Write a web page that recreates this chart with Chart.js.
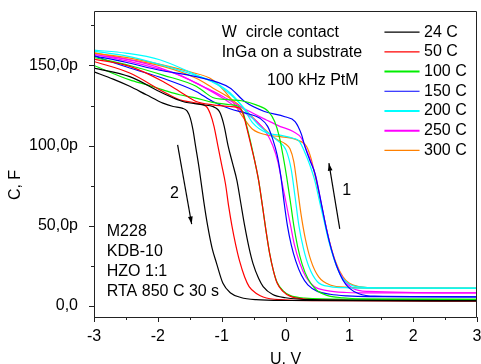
<!DOCTYPE html>
<html>
<head>
<meta charset="utf-8">
<script src="https://cdn.jsdelivr.net/npm/chart.js@4.4.1/dist/chart.umd.min.js"></script>
<style>
  html, body { margin: 0; padding: 0; background: #fff; }
</style>
</head>
<body>
<canvas id="cvChart" width="481" height="364"></canvas>
<script>
// C-V curves, capacitance in pF, voltage in V (two sweep branches per temperature)
const temps = ['24 C', '50 C', '100 C', '150 C', '200 C', '250 C', '300 C'];
const colors = ['#000000', '#ff0000', '#00ee00', '#0000ff', '#00ffff', '#ff00ff', '#ff8000'];

// branch "2" (left)
const u24b = [-3, -2.7, -2.44, -2.18, -1.92, -1.76, -1.62, -1.54, -1.49, -1.45, -1.41, -1.35, -1.28, -1.22, -1.15, -1.08, -0.98, -0.86, -0.7, -0.46, 0, 3];
const c24b = [146, 141.5, 137, 131.7, 126.5, 124.4, 123.4, 121.5, 117, 110, 100, 85, 65, 50, 36, 26.5, 14, 8, 5.2, 3.8, 3.3, 3];
const u50b = [-3, -2.44, -1.92, -1.66, -1.4, -1.24, -1.18, -1.12, -1.06, -1, -0.94, -0.89, -0.84, -0.78, -0.72, -0.64, -0.57, -0.45, -0.35, -0.1, 0.5, 3];
const c50b = [152.5, 145.3, 133.8, 128.6, 126.5, 124.4, 120, 112, 100, 88, 76, 62, 50, 38, 28, 18, 12, 7.5, 5.5, 3.8, 3.2, 3];
const u100b = [-3, -2.44, -2.18, -1.92, -1.66, -1.4, -1.14, -0.87, -0.72, -0.66, -0.6, -0.54, -0.48, -0.42, -0.36, -0.31, -0.25, -0.19, -0.13, -0.04, 0.07, 0.3, 1, 3];
const c100b = [150, 141, 138, 134.8, 131.7, 129.6, 127, 125.5, 124, 120, 111, 101, 90, 78, 62, 48, 33, 22, 14.5, 9.5, 6.5, 4.8, 4.1, 4];
const u150b = [-3, -2.44, -1.92, -1.4, -1.14, -0.87, -0.6, -0.4, -0.28, -0.2, -0.13, -0.07, -0.02, 0.03, 0.09, 0.16, 0.25, 0.35, 0.5, 0.7, 0.96, 1.3, 3];
const c150b = [156, 148.4, 142, 133.8, 127.5, 123, 120, 117, 112, 104, 94, 80, 64, 50, 38, 28, 19, 13, 9, 7.2, 6.2, 5.7, 5.6];
const u200b = [-3, -2.5, -1.97, -1.45, -1.03, -0.72, -0.4, -0.14, 0.01, 0.09, 0.15, 0.21, 0.28, 0.37, 0.5, 0.7, 1, 1.3, 3];
const c200b = [159.6, 157.7, 153.6, 145, 137, 126.5, 112, 103.6, 97, 85, 68, 50, 36, 24, 15, 12, 11.2, 11, 11];
const u250b = [-3, -2.5, -2, -1.5, -1, -0.7, -0.45, -0.3, -0.2, -0.12, -0.05, 0.02, 0.08, 0.14, 0.22, 0.32, 0.45, 0.65, 0.96, 1.3, 3];
const c250b = [156.7, 154, 149, 141, 130, 122, 115, 108, 100, 90, 76, 62, 50, 38, 27, 18, 12, 9.5, 8.3, 8, 8];
const u300b = [-3, -2.44, -1.92, -1.4, -1.14, -0.87, -0.6, -0.35, -0.14, 0, 0.07, 0.13, 0.18, 0.24, 0.31, 0.4, 0.52, 0.7, 1, 1.3, 3];
const c300b = [158, 153.6, 149.4, 142, 136, 129.6, 121, 111, 104, 101, 98, 90, 76, 58, 42, 28, 18, 13, 11.5, 11, 10.8];

// branch "1" (right)
const u24a = [-3, -2.44, -1.92, -1.61, -1.29, -1.14, -1.06, -1.02, -0.96, -0.9, -0.83, -0.76, -0.7, -0.64, -0.57, -0.51, -0.42, -0.35, -0.2, 0, 0.4, 3];
const c24a = [148.4, 143, 132.7, 127.5, 125.4, 124.4, 122.5, 120, 112, 100, 89, 78, 64, 50, 36, 26.5, 17, 12, 7, 5, 3.8, 3.2];
const u50a = [-3, -2.44, -1.92, -1.66, -1.4, -1.14, -0.87, -0.72, -0.66, -0.6, -0.54, -0.48, -0.42, -0.36, -0.31, -0.25, -0.19, -0.13, -0.04, 0.07, 0.3, 1, 3];
const c50a = [154, 149.4, 140, 133.8, 127.5, 125.4, 124.4, 123.4, 119, 110, 100, 90, 78, 62, 48, 33, 22, 14, 9, 6, 4.2, 3.3, 3];
const u100a = [-3, -2.44, -1.92, -1.4, -1.29, -1.14, -0.87, -0.69, -0.46, -0.27, -0.17, -0.1, -0.04, 0.02, 0.08, 0.13, 0.19, 0.26, 0.35, 0.48, 0.65, 0.9, 1.3, 3];
const c100a = [155, 150, 144, 137, 134, 130, 128.6, 128, 125.4, 121.3, 115, 106, 94, 80, 64, 50, 37, 26, 17, 10, 6.5, 5, 4.2, 4];
const u150a = [-3, -2.5, -1.97, -1.4, -0.87, -0.64, -0.33, -0.01, 0.15, 0.25, 0.3, 0.38, 0.46, 0.52, 0.58, 0.64, 0.72, 0.8, 0.9, 1, 1.15, 1.4, 3];
const c150a = [156, 152, 147, 143, 136, 127.5, 121.3, 118, 115, 107, 100, 91, 82.8, 72, 60, 48, 35, 25, 16, 11, 7.5, 6, 5.6];
const u200a = [-3, -2.5, -2, -1.5, -1.14, -0.87, -0.67, -0.51, -0.3, -0.09, 0.12, 0.22, 0.3, 0.38, 0.46, 0.54, 0.61, 0.68, 0.77, 0.88, 1, 1.15, 1.5, 3];
const c200a = [159, 156, 151, 145, 140, 133, 124, 114, 108, 106.5, 104.6, 102.5, 96, 88, 78, 64, 52, 40, 28, 18, 13.5, 11.8, 11.2, 11];
const u250a = [-3, -2.5, -2, -1.66, -1.4, -1.14, -0.98, -0.6, -0.3, -0.09, 0.12, 0.25, 0.32, 0.4, 0.48, 0.55, 0.62, 0.7, 0.8, 0.92, 1.05, 1.3, 3];
const c250a = [157, 153, 148, 144, 139, 134, 130.6, 122, 116, 112, 108.8, 104.6, 98, 90, 80, 66, 52, 38, 25, 16, 11, 9, 8];
const u300a = [-3, -2.5, -2, -1.5, -1.14, -0.87, -0.67, -0.51, -0.3, -0.09, 0.17, 0.33, 0.4, 0.47, 0.55, 0.62, 0.69, 0.78, 0.9, 1, 1.15, 1.5, 3];
const c300a = [157.5, 155, 151, 146, 141, 130, 118, 110, 106.7, 105.6, 103.6, 99.4, 92, 80, 65, 52, 40, 28, 18, 14, 12, 11.2, 11];

const branchB = [[u24b, c24b], [u50b, c50b], [u100b, c100b], [u150b, c150b], [u200b, c200b], [u250b, c250b], [u300b, c300b]];
const branchA = [[u24a, c24a], [u50a, c50a], [u100a, c100a], [u150a, c150a], [u200a, c200a], [u250a, c250a], [u300a, c300a]];

const xTicks = [-3, -2, -1, 0, 1, 2, 3];
const yTicks = [0, 50, 100, 150];

const notesTop = [['W  circle contact', -1.0, 170.4], ['InGa on a substrate', -1.0, 158], ['100 kHz PtM', -0.29, 140.4]];
const notesLow = [['M228', -2.8, 46.6], ['KDB-10', -2.8, 34], ['HZO 1:1', -2.8, 21.6], ['RTA 850 C 30 s', -2.8, 8.7]];

const FONT = '"Liberation Sans", Arial, sans-serif';

function pts(u, c) {
  return u.map((v, i) => ({ x: v, y: c[i] }));
}

const datasets = [];
for (let i = 0; i < temps.length; i++) {
  [branchB[i], branchA[i]].forEach(function (b) {
    datasets.push({
      label: temps[i],
      data: pts(b[0], b[1]),
      borderColor: colors[i],
      borderWidth: 1.2,
      pointRadius: 0,
      showLine: true,
      fill: false,
      cubicInterpolationMode: 'monotone'
    });
  });
}

function tickLabelY(v) {
  if (v % 50 !== 0) return '';
  return v === 0 ? '0,0' : v + ',0p';
}

const decor = {
  id: 'decor',
  afterDraw(chart) {
    const ctx = chart.ctx;
    const a = chart.chartArea;
    const xs = chart.scales.x, ys = chart.scales.y;
    ctx.save();
    // frame
    ctx.strokeStyle = '#222';
    ctx.lineWidth = 1;
    ctx.beginPath();
    ctx.moveTo(a.left + 0.5, a.bottom + 0.5);
    ctx.lineTo(a.left + 0.5, a.top + 0.5);
    ctx.lineTo(a.right - 0.5, a.top + 0.5);
    ctx.lineTo(a.right - 0.5, a.bottom + 0.5);
    ctx.lineTo(a.left + 0.5, a.bottom + 0.5);
    ctx.stroke();
    // ticks (outward, minor shorter)
    ctx.beginPath();
    for (let k = -6; k <= 6; k++) {
      const px = Math.round(xs.getPixelForValue(k / 2)) + 0.5;
      const len = k % 2 === 0 ? 5 : 3;
      ctx.moveTo(px, a.bottom);
      ctx.lineTo(px, a.bottom + len);
    }
    for (let v = 0; v <= 175; v += 25) {
      const py = Math.round(ys.getPixelForValue(v)) + 0.5;
      const len = v % 50 === 0 ? 5 : 3;
      ctx.moveTo(a.left, py);
      ctx.lineTo(a.left - len, py);
    }
    ctx.stroke();

    // axis titles
    ctx.fillStyle = '#000';
    ctx.font = '16px ' + FONT;
    ctx.textAlign = 'center';
    ctx.textBaseline = 'middle';
    ctx.fillText('U, V', (a.left + a.right) / 2, 360);
    ctx.save();
    ctx.translate(16, 185);
    ctx.rotate(-Math.PI / 2);
    ctx.fillText('C, F', 0, 0);
    ctx.restore();

    // notes
    ctx.textAlign = 'left';
    notesTop.concat(notesLow).forEach(function (n) {
      ctx.fillText(n[0], xs.getPixelForValue(n[1]), ys.getPixelForValue(n[2]));
    });

    // legend
    const lx0 = xs.getPixelForValue(1.55), lx1 = xs.getPixelForValue(2.1);
    temps.forEach(function (t, i) {
      const py = ys.getPixelForValue(170.8 - i * 12.3);
      ctx.strokeStyle = colors[i];
      ctx.lineWidth = (i === 2 || i === 4 || i === 5) ? 2 : 1.2;
      ctx.beginPath();
      ctx.moveTo(lx0, py);
      ctx.lineTo(lx1, py);
      ctx.stroke();
      ctx.fillStyle = '#000';
      ctx.fillText(t, xs.getPixelForValue(2.17), py);
    });

    // arrows
    function arrow(x0, y0, x1, y1) {
      const p0 = [xs.getPixelForValue(x0), ys.getPixelForValue(y0)];
      const p1 = [xs.getPixelForValue(x1), ys.getPixelForValue(y1)];
      const ang = Math.atan2(p1[1] - p0[1], p1[0] - p0[0]);
      ctx.strokeStyle = '#000';
      ctx.fillStyle = '#000';
      ctx.lineWidth = 1.2;
      ctx.beginPath();
      ctx.moveTo(p0[0], p0[1]);
      ctx.lineTo(p1[0], p1[1]);
      ctx.stroke();
      ctx.beginPath();
      ctx.moveTo(p1[0], p1[1]);
      ctx.lineTo(p1[0] - 8 * Math.cos(ang - 0.3), p1[1] - 8 * Math.sin(ang - 0.3));
      ctx.lineTo(p1[0] - 8 * Math.cos(ang + 0.3), p1[1] - 8 * Math.sin(ang + 0.3));
      ctx.closePath();
      ctx.fill();
    }
    arrow(-1.69, 100.4, -1.47, 51);
    arrow(0.85, 48, 0.68, 89);
    ctx.textAlign = 'center';
    ctx.fillText('2', xs.getPixelForValue(-1.74), ys.getPixelForValue(70));
    ctx.fillText('1', xs.getPixelForValue(0.96), ys.getPixelForValue(72));
    ctx.restore();
  }
};

new Chart(document.getElementById('cvChart'), {
  type: 'scatter',
  data: { datasets: datasets },
  options: {
    responsive: false,
    animation: false,
    events: [],
    layout: { padding: { top: 11, right: 4, left: 0, bottom: 0 } },
    plugins: { legend: { display: false }, tooltip: { enabled: false } },
    scales: {
      x: {
        type: 'linear',
        min: -3,
        max: 3,
        grid: { display: false },
        border: { display: false },
        afterFit: function (s) { s.height = 47; s.paddingLeft = 0; s.paddingRight = 0; },
        afterBuildTicks: function (s) { s.ticks = xTicks.map(v => ({ value: v })); },
        ticks: {
          autoSkip: false,
          maxRotation: 0,
          padding: 2,
          color: '#000',
          font: { family: FONT, size: 16 },
          callback: v => String(v)
        }
      },
      y: {
        type: 'linear',
        min: -7,
        max: 184,
        grid: { display: false },
        border: { display: false },
        afterFit: function (s) { s.width = 94; s.paddingTop = 0; s.paddingBottom = 0; },
        afterBuildTicks: function (s) { s.ticks = yTicks.map(v => ({ value: v })); },
        ticks: {
          padding: 8,
          color: '#000',
          font: { family: FONT, size: 16 },
          callback: tickLabelY
        }
      }
    }
  },
  plugins: [decor]
});
</script>
</body>
</html>
